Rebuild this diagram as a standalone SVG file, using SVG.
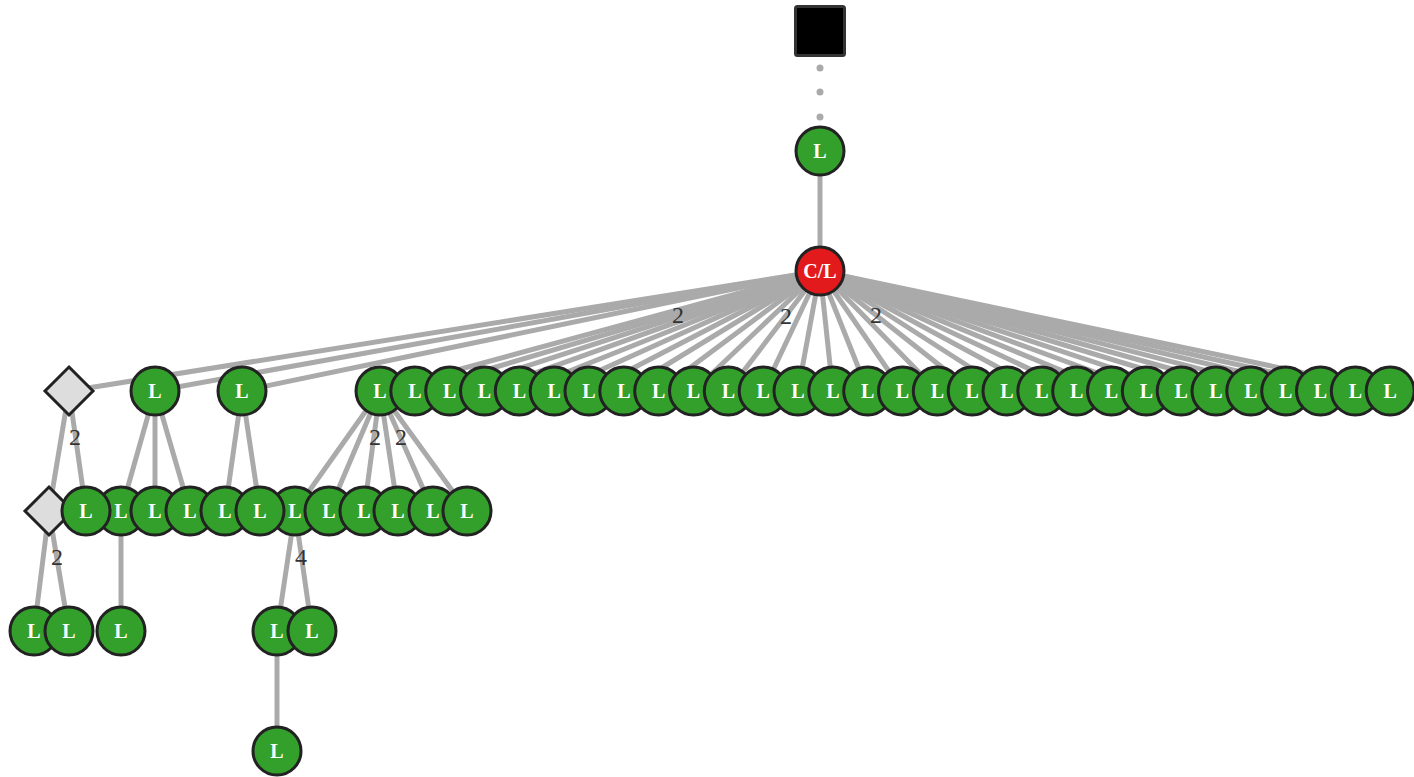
<svg xmlns="http://www.w3.org/2000/svg" width="1414" height="777" viewBox="0 0 1414 777">
<style>
.e{stroke:#aaa;stroke-width:5;fill:none}
.n{fill:#33a02c;stroke:#222;stroke-width:3}
.r{fill:#e31a1c;stroke:#222;stroke-width:3}
.d{fill:#ddd;stroke:#222;stroke-width:3}
.t{font-family:"Liberation Serif","Times New Roman",serif;font-weight:bold;font-size:20px;fill:#fff;text-anchor:middle}
.lb{font-family:"Liberation Serif","Times New Roman",serif;font-size:24px;fill:#333;text-anchor:middle}
</style>
<rect width="1414" height="777" fill="#fff"/>
<g id="connectors">
<circle cx="820" cy="68" r="3.5" fill="#aaa"/>
<circle cx="820" cy="92" r="3.5" fill="#aaa"/>
<circle cx="820" cy="117" r="3.5" fill="#aaa"/>
<line class="e" x1="820" y1="151" x2="820" y2="271"/>
<line class="e" x1="820" y1="271" x2="69" y2="391"/>
<line class="e" x1="820" y1="271" x2="155" y2="391"/>
<line class="e" x1="820" y1="271" x2="242" y2="391"/>
<line class="e" x1="820" y1="271" x2="380" y2="391"/>
<line class="e" x1="820" y1="271" x2="414.8" y2="391"/>
<line class="e" x1="820" y1="271" x2="449.7" y2="391"/>
<line class="e" x1="820" y1="271" x2="484.5" y2="391"/>
<line class="e" x1="820" y1="271" x2="519.3" y2="391"/>
<line class="e" x1="820" y1="271" x2="554.2" y2="391"/>
<line class="e" x1="820" y1="271" x2="589" y2="391"/>
<line class="e" x1="820" y1="271" x2="623.8" y2="391"/>
<line class="e" x1="820" y1="271" x2="658.7" y2="391"/>
<line class="e" x1="820" y1="271" x2="693.5" y2="391"/>
<line class="e" x1="820" y1="271" x2="728.3" y2="391"/>
<line class="e" x1="820" y1="271" x2="763.2" y2="391"/>
<line class="e" x1="820" y1="271" x2="798" y2="391"/>
<line class="e" x1="820" y1="271" x2="832.8" y2="391"/>
<line class="e" x1="820" y1="271" x2="867.7" y2="391"/>
<line class="e" x1="820" y1="271" x2="902.5" y2="391"/>
<line class="e" x1="820" y1="271" x2="937.3" y2="391"/>
<line class="e" x1="820" y1="271" x2="972.2" y2="391"/>
<line class="e" x1="820" y1="271" x2="1007" y2="391"/>
<line class="e" x1="820" y1="271" x2="1041.8" y2="391"/>
<line class="e" x1="820" y1="271" x2="1076.7" y2="391"/>
<line class="e" x1="820" y1="271" x2="1111.5" y2="391"/>
<line class="e" x1="820" y1="271" x2="1146.3" y2="391"/>
<line class="e" x1="820" y1="271" x2="1181.2" y2="391"/>
<line class="e" x1="820" y1="271" x2="1216" y2="391"/>
<line class="e" x1="820" y1="271" x2="1250.8" y2="391"/>
<line class="e" x1="820" y1="271" x2="1285.7" y2="391"/>
<line class="e" x1="820" y1="271" x2="1320.5" y2="391"/>
<line class="e" x1="820" y1="271" x2="1355.3" y2="391"/>
<line class="e" x1="820" y1="271" x2="1390.2" y2="391"/>
<line class="e" x1="69" y1="391" x2="49" y2="511"/>
<line class="e" x1="69" y1="391" x2="86" y2="511"/>
<line class="e" x1="155" y1="391" x2="121" y2="511"/>
<line class="e" x1="155" y1="391" x2="155" y2="511"/>
<line class="e" x1="155" y1="391" x2="190" y2="511"/>
<line class="e" x1="242" y1="391" x2="225" y2="511"/>
<line class="e" x1="242" y1="391" x2="260" y2="511"/>
<line class="e" x1="380" y1="391" x2="295" y2="511"/>
<line class="e" x1="380" y1="391" x2="329" y2="511"/>
<line class="e" x1="380" y1="391" x2="364" y2="511"/>
<line class="e" x1="380" y1="391" x2="398" y2="511"/>
<line class="e" x1="380" y1="391" x2="433" y2="511"/>
<line class="e" x1="380" y1="391" x2="467" y2="511"/>
<line class="e" x1="49" y1="511" x2="34" y2="631"/>
<line class="e" x1="49" y1="511" x2="69" y2="631"/>
<line class="e" x1="121" y1="511" x2="121" y2="631"/>
<line class="e" x1="295" y1="511" x2="277" y2="631"/>
<line class="e" x1="295" y1="511" x2="312" y2="631"/>
<line class="e" x1="277" y1="631" x2="277" y2="751"/>
<text class="lb" x="678" y="323">2</text>
<text class="lb" x="786" y="324">2</text>
<text class="lb" x="876" y="323">2</text>
<text class="lb" x="75" y="445">2</text>
<text class="lb" x="375" y="445">2</text>
<text class="lb" x="401" y="445">2</text>
<text class="lb" x="57" y="565">2</text>
<text class="lb" x="301" y="565">4</text>
</g>
<g id="root"><rect x="795.5" y="6.5" width="49" height="49" rx="2" fill="#000" stroke="#333" stroke-width="3"/></g>
<g id="n0"><circle class="n" cx="820" cy="151" r="24"/><text class="t" x="820" y="158">L</text></g>
<g id="n1"><circle class="r" cx="820" cy="271" r="24"/><text class="t" x="820" y="278">C/L</text></g>
<g id="d1"><polygon class="d" points="69,367 93,391 69,415 45,391"/></g>
<g id="r1a"><circle class="n" cx="155" cy="391" r="24"/><text class="t" x="155" y="398">L</text></g>
<g id="r1b"><circle class="n" cx="242" cy="391" r="24"/><text class="t" x="242" y="398">L</text></g>
<g id="r1c"><circle class="n" cx="380" cy="391" r="24"/><text class="t" x="380" y="398">L</text></g>
<g id="r1_1"><circle class="n" cx="414.8" cy="391" r="24"/><text class="t" x="414.8" y="398">L</text></g>
<g id="r1_2"><circle class="n" cx="449.7" cy="391" r="24"/><text class="t" x="449.7" y="398">L</text></g>
<g id="r1_3"><circle class="n" cx="484.5" cy="391" r="24"/><text class="t" x="484.5" y="398">L</text></g>
<g id="r1_4"><circle class="n" cx="519.3" cy="391" r="24"/><text class="t" x="519.3" y="398">L</text></g>
<g id="r1_5"><circle class="n" cx="554.2" cy="391" r="24"/><text class="t" x="554.2" y="398">L</text></g>
<g id="r1_6"><circle class="n" cx="589" cy="391" r="24"/><text class="t" x="589" y="398">L</text></g>
<g id="r1_7"><circle class="n" cx="623.8" cy="391" r="24"/><text class="t" x="623.8" y="398">L</text></g>
<g id="r1_8"><circle class="n" cx="658.7" cy="391" r="24"/><text class="t" x="658.7" y="398">L</text></g>
<g id="r1_9"><circle class="n" cx="693.5" cy="391" r="24"/><text class="t" x="693.5" y="398">L</text></g>
<g id="r1_10"><circle class="n" cx="728.3" cy="391" r="24"/><text class="t" x="728.3" y="398">L</text></g>
<g id="r1_11"><circle class="n" cx="763.2" cy="391" r="24"/><text class="t" x="763.2" y="398">L</text></g>
<g id="r1_12"><circle class="n" cx="798" cy="391" r="24"/><text class="t" x="798" y="398">L</text></g>
<g id="r1_13"><circle class="n" cx="832.8" cy="391" r="24"/><text class="t" x="832.8" y="398">L</text></g>
<g id="r1_14"><circle class="n" cx="867.7" cy="391" r="24"/><text class="t" x="867.7" y="398">L</text></g>
<g id="r1_15"><circle class="n" cx="902.5" cy="391" r="24"/><text class="t" x="902.5" y="398">L</text></g>
<g id="r1_16"><circle class="n" cx="937.3" cy="391" r="24"/><text class="t" x="937.3" y="398">L</text></g>
<g id="r1_17"><circle class="n" cx="972.2" cy="391" r="24"/><text class="t" x="972.2" y="398">L</text></g>
<g id="r1_18"><circle class="n" cx="1007" cy="391" r="24"/><text class="t" x="1007" y="398">L</text></g>
<g id="r1_19"><circle class="n" cx="1041.8" cy="391" r="24"/><text class="t" x="1041.8" y="398">L</text></g>
<g id="r1_20"><circle class="n" cx="1076.7" cy="391" r="24"/><text class="t" x="1076.7" y="398">L</text></g>
<g id="r1_21"><circle class="n" cx="1111.5" cy="391" r="24"/><text class="t" x="1111.5" y="398">L</text></g>
<g id="r1_22"><circle class="n" cx="1146.3" cy="391" r="24"/><text class="t" x="1146.3" y="398">L</text></g>
<g id="r1_23"><circle class="n" cx="1181.2" cy="391" r="24"/><text class="t" x="1181.2" y="398">L</text></g>
<g id="r1_24"><circle class="n" cx="1216" cy="391" r="24"/><text class="t" x="1216" y="398">L</text></g>
<g id="r1_25"><circle class="n" cx="1250.8" cy="391" r="24"/><text class="t" x="1250.8" y="398">L</text></g>
<g id="r1_26"><circle class="n" cx="1285.7" cy="391" r="24"/><text class="t" x="1285.7" y="398">L</text></g>
<g id="r1_27"><circle class="n" cx="1320.5" cy="391" r="24"/><text class="t" x="1320.5" y="398">L</text></g>
<g id="r1_28"><circle class="n" cx="1355.3" cy="391" r="24"/><text class="t" x="1355.3" y="398">L</text></g>
<g id="r1_29"><circle class="n" cx="1390.2" cy="391" r="24"/><text class="t" x="1390.2" y="398">L</text></g>
<g id="d2"><polygon class="d" points="49,487 73,511 49,535 25,511"/></g>
<g id="r2_121"><circle class="n" cx="121" cy="511" r="24"/><text class="t" x="121" y="518">L</text></g>
<g id="r2_295"><circle class="n" cx="295" cy="511" r="24"/><text class="t" x="295" y="518">L</text></g>
<g id="r2_86"><circle class="n" cx="86" cy="511" r="24"/><text class="t" x="86" y="518">L</text></g>
<g id="r2_155"><circle class="n" cx="155" cy="511" r="24"/><text class="t" x="155" y="518">L</text></g>
<g id="r2_190"><circle class="n" cx="190" cy="511" r="24"/><text class="t" x="190" y="518">L</text></g>
<g id="r2_225"><circle class="n" cx="225" cy="511" r="24"/><text class="t" x="225" y="518">L</text></g>
<g id="r2_260"><circle class="n" cx="260" cy="511" r="24"/><text class="t" x="260" y="518">L</text></g>
<g id="r2_329"><circle class="n" cx="329" cy="511" r="24"/><text class="t" x="329" y="518">L</text></g>
<g id="r2_364"><circle class="n" cx="364" cy="511" r="24"/><text class="t" x="364" y="518">L</text></g>
<g id="r2_398"><circle class="n" cx="398" cy="511" r="24"/><text class="t" x="398" y="518">L</text></g>
<g id="r2_433"><circle class="n" cx="433" cy="511" r="24"/><text class="t" x="433" y="518">L</text></g>
<g id="r2_467"><circle class="n" cx="467" cy="511" r="24"/><text class="t" x="467" y="518">L</text></g>
<g id="r3_277"><circle class="n" cx="277" cy="631" r="24"/><text class="t" x="277" y="638">L</text></g>
<g id="r3_34"><circle class="n" cx="34" cy="631" r="24"/><text class="t" x="34" y="638">L</text></g>
<g id="r3_69"><circle class="n" cx="69" cy="631" r="24"/><text class="t" x="69" y="638">L</text></g>
<g id="r3_121"><circle class="n" cx="121" cy="631" r="24"/><text class="t" x="121" y="638">L</text></g>
<g id="r3_312"><circle class="n" cx="312" cy="631" r="24"/><text class="t" x="312" y="638">L</text></g>
<g id="r4_277"><circle class="n" cx="277" cy="751" r="24"/><text class="t" x="277" y="758">L</text></g>
</svg>
